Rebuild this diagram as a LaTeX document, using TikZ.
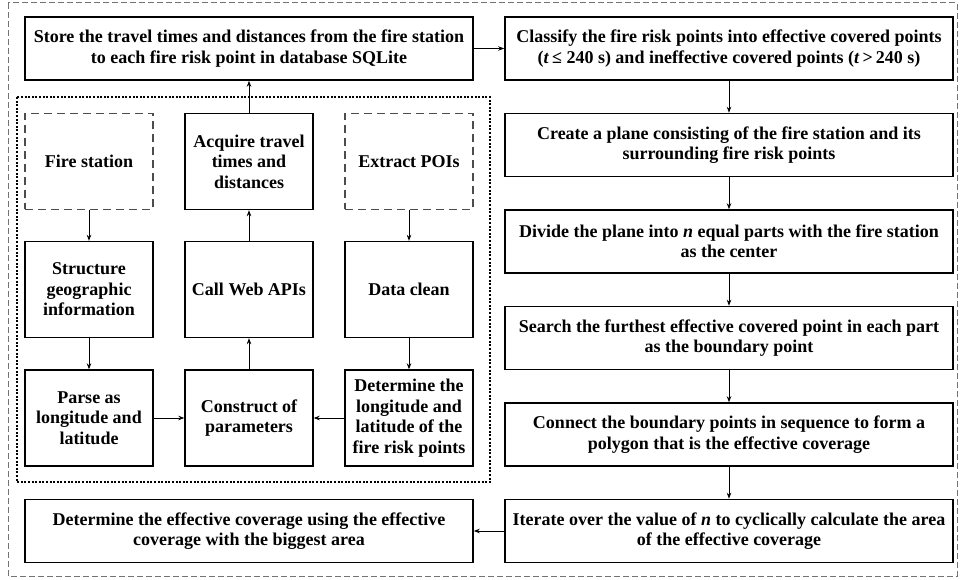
\documentclass[tikz,border=0pt]{standalone}
\usepackage{fontspec}
\setmainfont{Liberation Serif}
\usetikzlibrary{arrows.meta}
\begin{document}
\begin{tikzpicture}[x=1pt,y=-1pt,
  every node/.style={font=\fontsize{18}{20.5}\selectfont\bfseries, align=center, inner sep=0pt},
  wide/.style={draw, line width=1.6pt, minimum width=448pt, minimum height=63pt},
  cell/.style={draw, line width=1.4pt, minimum width=128pt, minimum height=96pt},
  dcell/.style={draw=black!70, line width=1.3pt, dash pattern=on 8pt off 5pt, minimum width=128pt, minimum height=96pt},
  arr/.style={-{Stealth[length=6pt,width=4.5pt]}, line width=0.8pt}
]
\useasboundingbox (0,0) rectangle (961,580);
\draw[black!55, line width=1pt, dash pattern=on 6pt off 3pt] (8,3) rectangle (957,576);
\draw[line width=2pt, dash pattern=on 2pt off 1.6pt] (17,97) rectangle (490,482);

\node[wide] (store) at (249,48.5) {Store the travel times and distances from the fire station\\to each fire risk point in database SQLite};
\node[wide] (r1) at (729,48.5) {Classify the fire risk points into effective covered points\\(\textit{t}\,≤~240 s) and ineffective covered points (\textit{t}\,>\,240 s)};
\node[wide] (r2) at (729,145) {Create a plane consisting of the fire station and its\\surrounding fire risk points};
\node[wide] (r3) at (729,241.5) {Divide the plane into \textit{n} equal parts with the fire station\\as the center};
\node[wide] (r4) at (729,338) {Search the furthest effective covered point in each part\\as the boundary point};
\node[wide] (r5) at (729,434.5) {Connect the boundary points in sequence to form a\\polygon that is the effective coverage};
\node[wide] (r6) at (729,531) {Iterate over the value of \textit{n} to cyclically calculate the area\\of the effective coverage};
\node[wide] (bl) at (249,531) {Determine the effective coverage using the effective\\coverage with the biggest area};

\node[dcell] (fs) at (89,161.5) {Fire station};
\node[cell] (acq) at (249,161.5) {Acquire travel\\times and\\distances};
\node[dcell] (poi) at (409,161.5) {Extract POIs};
\node[cell] (sgi) at (89,289.5) {Structure\\geographic\\information};
\node[cell] (web) at (249,289.5) {Call Web APIs};
\node[cell] (dc) at (409,289.5) {Data clean};
\node[cell] (par) at (89,418) {Parse as\\longitude and\\latitude};
\node[cell] (con) at (249,418) {Construct of\\parameters};
\node[cell] (det) at (409,418) {Determine the\\longitude and\\latitude of the\\fire risk points};

\draw[arr] (fs) -- (sgi);
\draw[arr] (sgi) -- (par);
\draw[arr] (par) -- (con);
\draw[arr] (det) -- (con);
\draw[arr] (poi) -- (dc);
\draw[arr] (dc) -- (det);
\draw[arr] (con) -- (web);
\draw[arr] (web) -- (acq);
\draw[arr] (acq) -- (store);
\draw[arr] (store) -- (r1);
\draw[arr] (r1) -- (r2);
\draw[arr] (r2) -- (r3);
\draw[arr] (r3) -- (r4);
\draw[arr] (r4) -- (r5);
\draw[arr] (r5) -- (r6);
\draw[arr] (r6) -- (bl);
\end{tikzpicture}
\end{document}
